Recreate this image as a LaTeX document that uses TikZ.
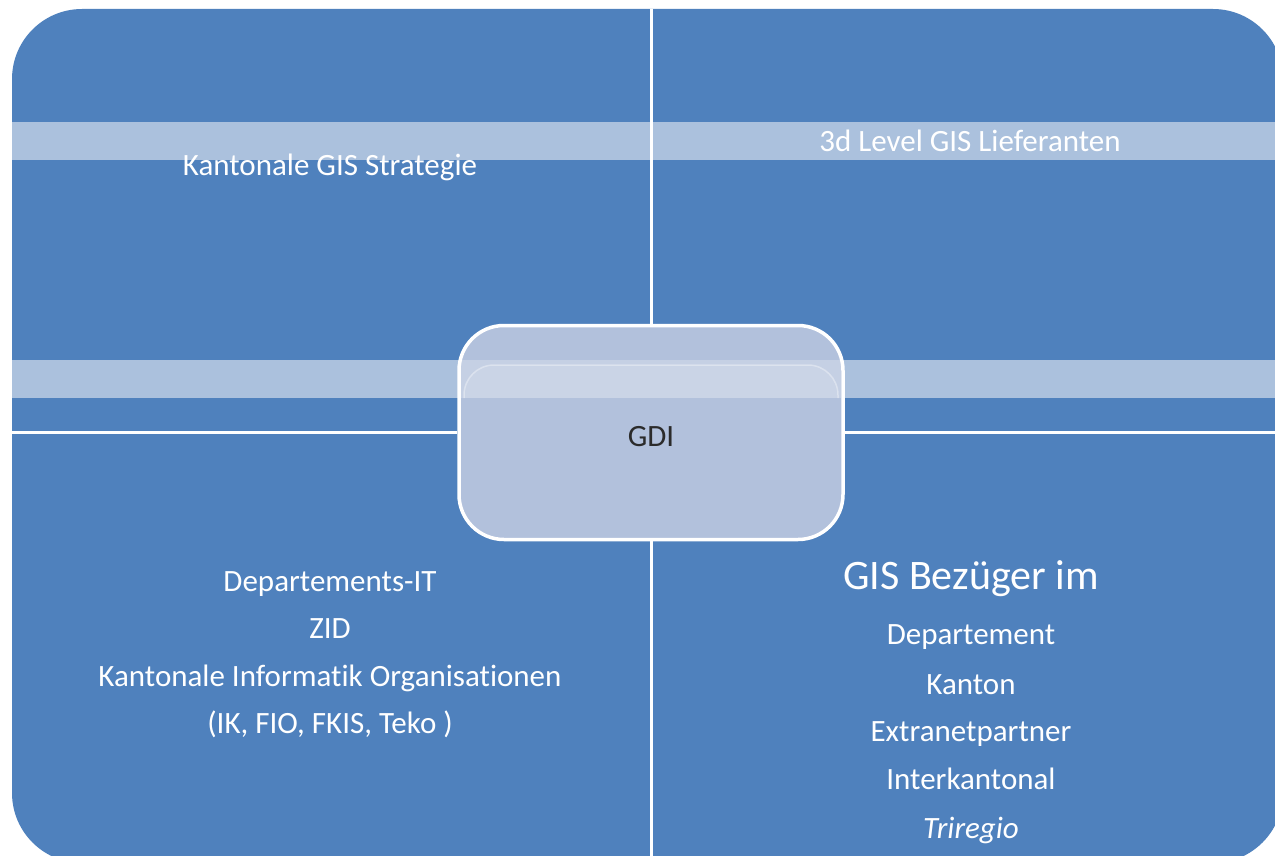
\documentclass[tikz,border=0pt]{standalone}
\usepackage{fontspec}
\setmainfont{Carlito}[Ligatures=NoCommon]
\definecolor{quadblue}{HTML}{4F81BD}
\definecolor{bandblue}{HTML}{ABC1DD}
\definecolor{gdifill}{HTML}{B2C1DC}
\definecolor{gditext}{HTML}{2B2B2B}

\tikzset{
  sep/.style={white, line width=3pt},
  quadtext/.style={text=white, font=\fontsize{31}{37}\selectfont,
    text height=21pt, text depth=6pt, yshift=-3pt},
  bigtext/.style={text=white, font=\fontsize{42}{50}\selectfont, yshift=-3pt}
}

\begin{document}
\begin{tikzpicture}[x=1pt,y=-1pt]
\useasboundingbox (0,0) rectangle (1275,856);

\coordinate (tl) at (12,9);
\coordinate (br) at (1283,863);
\coordinate (top) at (651,9);
\coordinate (bottom) at (651,856);
\coordinate (left) at (12,432.5);
\coordinate (right) at (1275,432.5);

% Flaeche
\fill[quadblue, rounded corners=70] (tl) rectangle (br);

% Baender
\fill[bandblue] (12,122) rectangle (1283,160);
\fill[bandblue] (12,360) rectangle (1283,398);

% GDI Kasten
\node (gdi) at (651,432.5) [draw=white, line width=3.5pt, fill=gdifill,
  rounded corners=45, minimum width=384pt, minimum height=214pt,
  inner sep=0pt] {};
\fill[white, opacity=.25] (461,360) rectangle (841,398);
\draw[white, opacity=.35, line width=1.5pt, fill=white, fill opacity=.1, rounded corners=30]
  (464,398) -- (464,365) -- (838,365) -- (838,398);
\node (gdilabel) at (gdi) [text=gditext, font=\fontsize{31}{37}\selectfont, yshift=-4pt] {GDI};

% Trennlinien
\draw[sep] (top) -- (gdi.north);
\draw[sep] (gdi.south) -- (bottom);
\draw[sep] (left) -- (gdi.west);
\draw[sep] (gdi.east) -- (right);

% oben
\node (strategie) at (330,165) [quadtext] {Kantonale GIS Strategie};
\node (lieferanten) at (970,141) [quadtext] {3d Level GIS Lieferanten};

% unten links
\node (depit) at (330,581) [quadtext] {Departements-IT};
\node (zid) at (330,628) [quadtext] {ZID};
\node (kio) at (330,676) [quadtext] {Kantonale Informatik Organisationen};
\node (ik) at (330,723) [quadtext] {(IK, FIO, FKIS, Teko )};

% unten rechts
\node (bezueger) at (971,576) [bigtext] {GIS Bezüger im};
\node (departement) at (971,634) [quadtext] {Departement};
\node (kanton) at (971,684) [quadtext] {Kanton};
\node (extranet) at (971,731) [quadtext] {Extranetpartner};
\node (interkant) at (971,779) [quadtext] {Interkantonal};
\node (triregio) at (971,828) [quadtext, font=\fontsize{31}{37}\selectfont\itshape] {Triregio};
\end{tikzpicture}
\end{document}
